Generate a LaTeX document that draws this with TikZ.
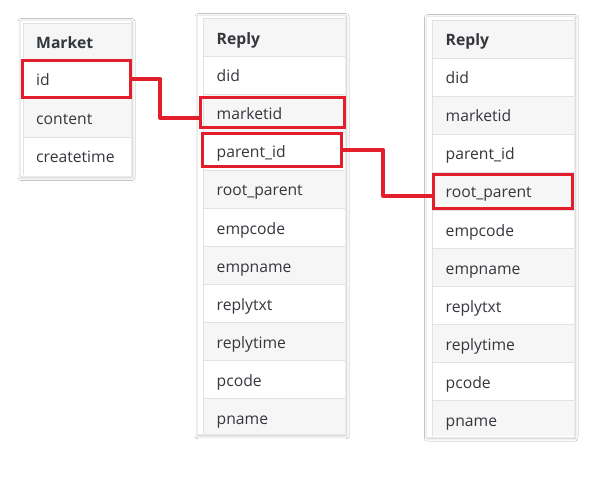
\documentclass[tikz,border=0pt]{standalone}
\usepackage{fontspec}
\setmainfont{Open Sans}
\usetikzlibrary{shadows.blur}
\definecolor{linkred}{RGB}{226,30,45}
\definecolor{txt}{RGB}{52,55,60}
\definecolor{rowshade}{RGB}{246,246,246}
\definecolor{rulec}{RGB}{226,226,226}
\begin{document}
\begin{tikzpicture}[x=1pt,y=-1pt,
  card/.style={fill=white, draw=rulec!70, line width=0.4pt,
    blur shadow={shadow xshift=1pt, shadow yshift=-1.5pt, shadow blur radius=3pt, shadow opacity=25}},
  shade/.style={fill=rowshade},
  sep/.style={draw=rulec, line width=0.8pt},
  cell/.style={anchor=base west, inner sep=0pt, text=txt, font=\fontsize{15.7}{18}\selectfont},
  head/.style={cell, font=\fontsize{15.7}{18}\selectfont\bfseries},
  redbox/.style={draw=linkred, line width=3pt, inner sep=0pt, outer sep=0pt, anchor=north west},
  link/.style={draw=linkred, line width=3.8pt, line join=round}]
\useasboundingbox (0,0) rectangle (612,478);
\fill[white] (0,0) rectangle (612,478);

% ---------- Market ----------
\path[card] (20,20) rectangle (131,176);
\path[shade] (23,23) rectangle (131,60);
\path[shade] (23,98.5) rectangle (131,137);
\foreach \yy in {23,60,98.5,137} {\draw[sep] (23,\yy) -- (131,\yy);}
\draw[sep] (23,23) -- (23,175.5);
\node[head] (mh) at (36,48.2) {Market};
\node[cell] (m1) at (36,85.9) {id};
\node[cell] (m2) at (36,124.3) {content};
\node[cell] (m3) at (36,162.6) {createtime};

% ---------- Reply (middle) ----------
\path[card] (197,15) rectangle (345,434.3);
\path[shade] (203,18.5) rectangle (345,56.5);
\foreach \k in {1,3,5,7,9} {\path[shade] (203,56.5+38*\k) rectangle (345,{min(94.5+38*\k,434)});}
\draw[sep] (203,18.5) -- (345,18.5);
\foreach \k in {0,...,9} {\draw[sep] (203,56.5+38*\k) -- (345,56.5+38*\k);}
\draw[sep] (203,18.5) -- (203,434);
\node[head] (ah) at (216.5,44.2) {Reply};
\foreach \t [count=\i from 0] in {did,marketid,parent\_id,root\_parent,empcode,empname,replytxt,replytime,pcode,pname}
  {\node[cell] (a\i) at (216.5,82+38*\i) {\t};}

% ---------- Reply (right) ----------
\path[card] (426.5,16) rectangle (574,436.7);
\path[shade] (432,20) rectangle (574,58.5);
\foreach \k in {1,3,5,7,9} {\path[shade] (432,58.5+38*\k) rectangle (574,{min(96.5+38*\k,436.4)});}
\draw[sep] (432,20) -- (574,20);
\foreach \k in {0,...,9} {\draw[sep] (432,58.5+38*\k) -- (574,58.5+38*\k);}
\draw[sep] (432,20) -- (432,436.4);
\node[head] (bh) at (445.5,45.9) {Reply};
\foreach \t [count=\i from 0] in {did,marketid,parent\_id,root\_parent,empcode,empname,replytxt,replytime,pcode,pname}
  {\node[cell] (b\i) at (445.5,84+38*\i) {\t};}

% ---------- highlight boxes ----------
\node[redbox, minimum width=108pt, minimum height=37pt] (idbox) at (22.8,60.2) {};
\node[redbox, minimum width=143.4pt, minimum height=30.3pt] (mkbox) at (200.8,97.5) {};
\node[redbox, minimum width=139.6pt, minimum height=32.7pt] (pbox) at (202.2,133.5) {};
\node[redbox, minimum width=139.6pt, minimum height=34.3pt] (rbox) at (433.2,174.2) {};

% ---------- connectors ----------
\draw[link] (idbox.east) -- ++(29,0) |- ([yshift=-5pt]mkbox.west);
\draw[link] (pbox.east) -- ++(41.5,0) |- ([yshift=-4.6pt]rbox.west);
\end{tikzpicture}
\end{document}
